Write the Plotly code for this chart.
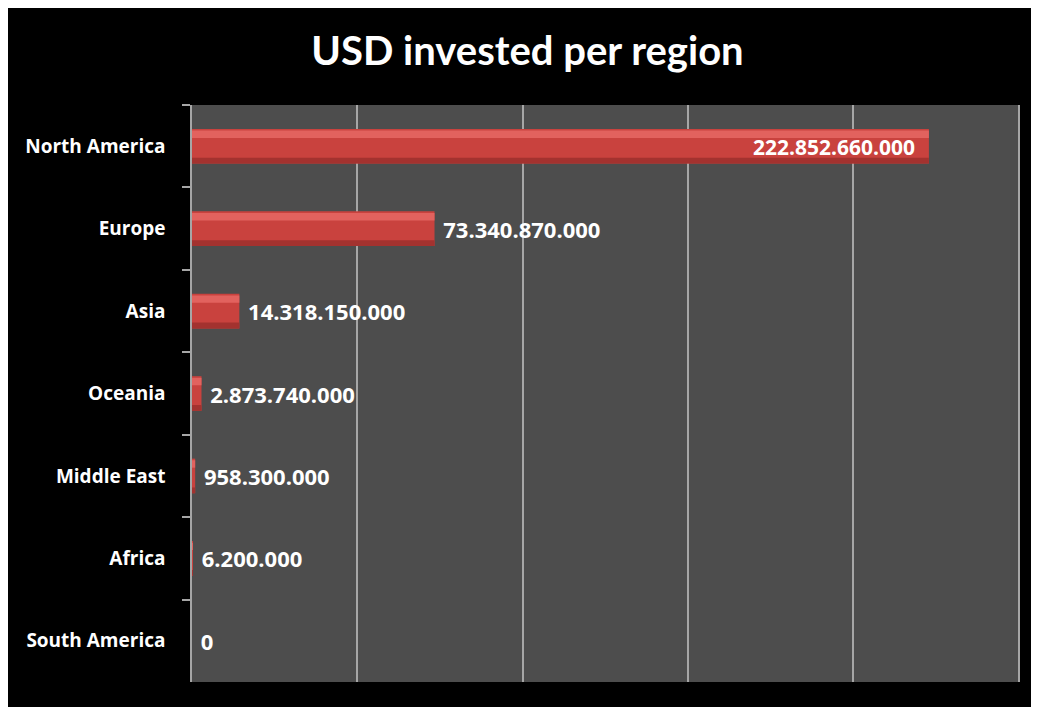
import plotly.graph_objects as go

regions = ["North America", "Europe", "Asia", "Oceania", "Middle East", "Africa", "South America"]
usd_invested = [222852660000, 73340870000, 14318150000, 2873740000, 958300000, 6200000, 0]
title_text = "USD invested per region"

def fmt(v):
    return f"{v:,}".replace(",", ".")

labels = [fmt(v) for v in usd_invested]
text = [(s + "\u00a0\u00a0") if i == 0 else ("\u00a0" + s) for i, s in enumerate(labels)]
positions = ["inside"] + ["outside"] * (len(regions) - 1)

W, H = 1039, 707
ML, MR, MT, MB = 184, 27, 97, 33

fig = go.Figure()
fig.add_trace(go.Bar(
    x=usd_invested, y=regions, orientation="h",
    width=0.42,
    marker=dict(color="#c9423e", line=dict(width=0)),
    text=text, textposition=positions, insidetextanchor="end",
    textfont=dict(family="Open Sans", size=22, color="white", weight="bold"),
    cliponaxis=False, hoverinfo="skip",
))
fig.add_trace(go.Bar(
    x=usd_invested, y=regions, orientation="h",
    width=0.09, offset=-0.19,
    marker=dict(color="#e2625e", line=dict(width=0)),
    hoverinfo="skip",
))
fig.add_trace(go.Bar(
    x=usd_invested, y=regions, orientation="h",
    width=0.07, offset=0.14,
    marker=dict(color="#a3322f", line=dict(width=0)),
    hoverinfo="skip",
))

fig.update_layout(
    width=W, height=H,
    margin=dict(l=ML, r=MR, t=MT, b=MB, pad=0),
    paper_bgcolor="black", plot_bgcolor="#4d4d4d",
    barmode="overlay", showlegend=False,
    title=dict(text=title_text, x=0.5, xanchor="center", y=1 - 43 / H, yanchor="middle",
               font=dict(family="Lato", size=40, color="white", weight="bold")),
    xaxis=dict(range=[0, 250.4e9], dtick=50e9, tick0=0, showticklabels=False,
               showgrid=True, gridcolor="#a6a6a6", gridwidth=1.5, zeroline=False,
               showline=False),
    yaxis=dict(autorange="reversed", type="category", tickson="boundaries",
               ticks="outside", ticklen=8, tickcolor="#a6a6a6", tickwidth=1.5,
               showline=True, linecolor="#a6a6a6", linewidth=1.5, showgrid=False,
               ticklabelstandoff=21,
               tickfont=dict(family="Open Sans", size=19, color="white", weight="bold")),
)

fig.write_html("out.html")
